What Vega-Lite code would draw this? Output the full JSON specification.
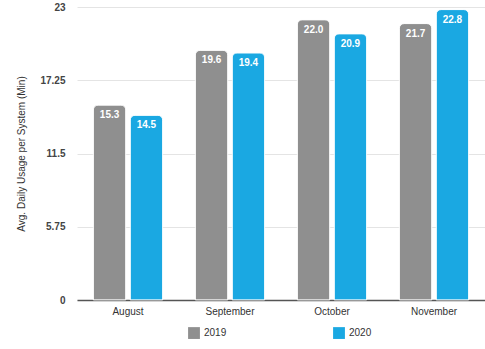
{
  "$schema": "https://vega.github.io/schema/vega-lite/v6.json",
  "autosize": "none",
  "width": 408,
  "height": 293,
  "padding": {"left": 77, "top": 7, "right": 0, "bottom": 49},
  "background": "white",
  "config": {
    "view": {"stroke": null},
    "font": "Liberation Sans"
  },
  "data": {
    "values": [
      {"month": "August", "year": "2019", "value": 15.3},
      {"month": "August", "year": "2020", "value": 14.5},
      {"month": "September", "year": "2019", "value": 19.6},
      {"month": "September", "year": "2020", "value": 19.4},
      {"month": "October", "year": "2019", "value": 22.0},
      {"month": "October", "year": "2020", "value": 20.9},
      {"month": "November", "year": "2019", "value": 21.7},
      {"month": "November", "year": "2020", "value": 22.8}
    ]
  },
  "encoding": {
    "x": {
      "field": "month", "type": "nominal", "sort": null,
      "scale": {"paddingInner": 0.32, "paddingOuter": 0.16},
      "axis": {"title": null, "labelAngle": 0, "ticks": false, "domainColor": "#555", "domainWidth": 1.5, "labelFontSize": 10, "labelColor": "#333", "labelPadding": 6}
    },
    "xOffset": {"field": "year", "type": "nominal", "scale": {"paddingInner": 0.12}},
    "y": {
      "field": "value", "type": "quantitative",
      "scale": {"domain": [0, 23]},
      "axis": {
        "title": "Avg. Daily Usage per System (Min)",
        "titleFontSize": 10, "titleFontWeight": "normal", "titleColor": "#333", "titlePadding": 13,
        "values": [0, 5.75, 11.5, 17.25, 23],
        "labelExpr": "'' + datum.value",
        "labelFontSize": 10, "labelFontWeight": "bold", "labelColor": "#444", "labelPadding": 12,
        "ticks": false, "domain": false, "gridColor": "#e4e4e4"
      }
    }
  },
  "layer": [
    {
      "mark": {"type": "bar", "cornerRadiusTopLeft": 5, "cornerRadiusTopRight": 5, "stroke": "white", "strokeWidth": 0.8},
      "encoding": {
        "color": {
          "field": "year", "type": "nominal",
          "scale": {"domain": ["2019", "2020"], "range": ["#8f8f8f", "#1aa8e2"]},
          "legend": {
            "title": null, "orient": "none", "legendX": 111, "legendY": 320,
            "direction": "horizontal", "symbolType": "square", "symbolSize": 140,
            "symbolStrokeWidth": 0, "labelFontSize": 10, "labelColor": "#333",
            "columnPadding": 106, "symbolOpacity": 1
          }
        }
      }
    },
    {
      "mark": {"type": "text", "baseline": "middle", "dy": 10, "color": "white", "fontSize": 10, "fontWeight": "bold"},
      "encoding": {
        "text": {"field": "value", "type": "quantitative", "format": ".1f"}
      }
    }
  ]
}
